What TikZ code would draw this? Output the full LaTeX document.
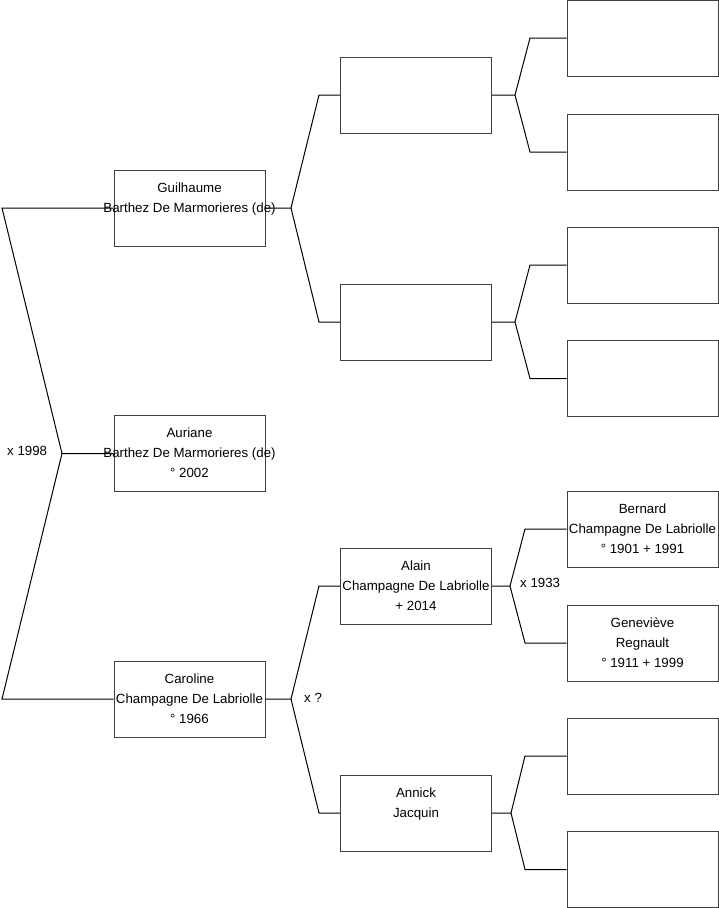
\documentclass[tikz,border=0pt]{standalone}
\usepackage{fontspec}
\setmainfont{Liberation Sans}
\begin{document}
\begin{tikzpicture}[x=1pt,y=-1pt,
  box/.style={draw=black!75,line width=1pt,fill=white,minimum width=151pt,minimum height=76pt,inner sep=0pt},
  txt/.style={align=center,inner sep=0pt,font=\fontsize{13.3}{20}\selectfont,yshift=0.5pt},
  lbl/.style={inner sep=0pt,font=\fontsize{13.3}{16}\selectfont},
  conn/.style={line width=1pt,black}]
\useasboundingbox (0,0) rectangle (719,908);
% boxes
\node[box] (G) at (189.5,208) {};
\node[box] (Au) at (189.5,453.5) {};
\node[box] (C) at (189.5,699) {};
\node[box] (P1) at (416,95) {};
\node[box] (P2) at (416,322) {};
\node[box] (Al) at (416,586) {};
\node[box] (An) at (416,813) {};
\node[box] (Q1) at (642.5,38) {};
\node[box] (Q2) at (642.5,152) {};
\node[box] (Q3) at (642.5,265) {};
\node[box] (Q4) at (642.5,378.5) {};
\node[box] (B) at (642.5,529) {};
\node[box] (Ge) at (642.5,643) {};
\node[box] (Q7) at (642.5,756) {};
\node[box] (Q8) at (642.5,869.5) {};
% coordinates of bracket joints
\coordinate (j0) at (62,453.5);
\coordinate (e0a) at (2,208);
\coordinate (e0b) at (2,699);
\coordinate (jG) at (291,208);
\coordinate (eGa) at (319,95);
\coordinate (eGb) at (319,322);
\coordinate (jC) at (291,699);
\coordinate (eCa) at (319,586);
\coordinate (eCb) at (319,813);
\coordinate (jP1) at (515,95);
\coordinate (eP1a) at (530,38);
\coordinate (eP1b) at (530,152);
\coordinate (jP2) at (515,322);
\coordinate (eP2a) at (530,265);
\coordinate (eP2b) at (530,378.5);
\coordinate (jA) at (510,586);
\coordinate (eAa) at (525,529);
\coordinate (eAb) at (525,643);
\coordinate (jN) at (511,813);
\coordinate (eNa) at (525,756);
\coordinate (eNb) at (525,869.5);
% connectors
\draw[conn] (Au.west) -- (j0) -- (e0a) -- (G.west);
\draw[conn] (j0) -- (e0b) -- (C.west);
\draw[conn] (G.east) -- (jG) -- (eGa) -- (P1.west);
\draw[conn] (jG) -- (eGb) -- (P2.west);
\draw[conn] (C.east) -- (jC) -- (eCa) -- (Al.west);
\draw[conn] (jC) -- (eCb) -- (An.west);
\draw[conn] (P1.east) -- (jP1) -- (eP1a) -- (Q1.west);
\draw[conn] (jP1) -- (eP1b) -- (Q2.west);
\draw[conn] (P2.east) -- (jP2) -- (eP2a) -- (Q3.west);
\draw[conn] (jP2) -- (eP2b) -- (Q4.west);
\draw[conn] (Al.east) -- (jA) -- (eAa) -- (B.west);
\draw[conn] (jA) -- (eAb) -- (Ge.west);
\draw[conn] (An.east) -- (jN) -- (eNa) -- (Q7.west);
\draw[conn] (jN) -- (eNb) -- (Q8.west);
% texts
\node[txt] (tG) at (G) {Guilhaume\\Barthez De Marmorieres (de)\\\phantom{° 2002}};
\node[txt] (tAu) at (Au) {Auriane\\Barthez De Marmorieres (de)\\° 2002};
\node[txt] (tC) at (C) {Caroline\\Champagne De Labriolle\\° 1966};
\node[txt] (tAl) at (Al) {Alain\\Champagne De Labriolle\\+ 2014};
\node[txt] (tAn) at (An) {Annick\\Jacquin\\\phantom{° 2002}};
\node[txt] (tB) at (B) {Bernard\\Champagne De Labriolle\\° 1901 + 1991};
\node[txt] (tGe) at (Ge) {Geneviève\\Regnault\\° 1911 + 1999};
% marriage labels
\node[lbl,anchor=west] (m1) at (7,451) {x 1998};
\node[lbl,anchor=west] (m2) at (304,698) {x ?};
\node[lbl,anchor=west] (m3) at (520,583) {x 1933};
\end{tikzpicture}
\end{document}
